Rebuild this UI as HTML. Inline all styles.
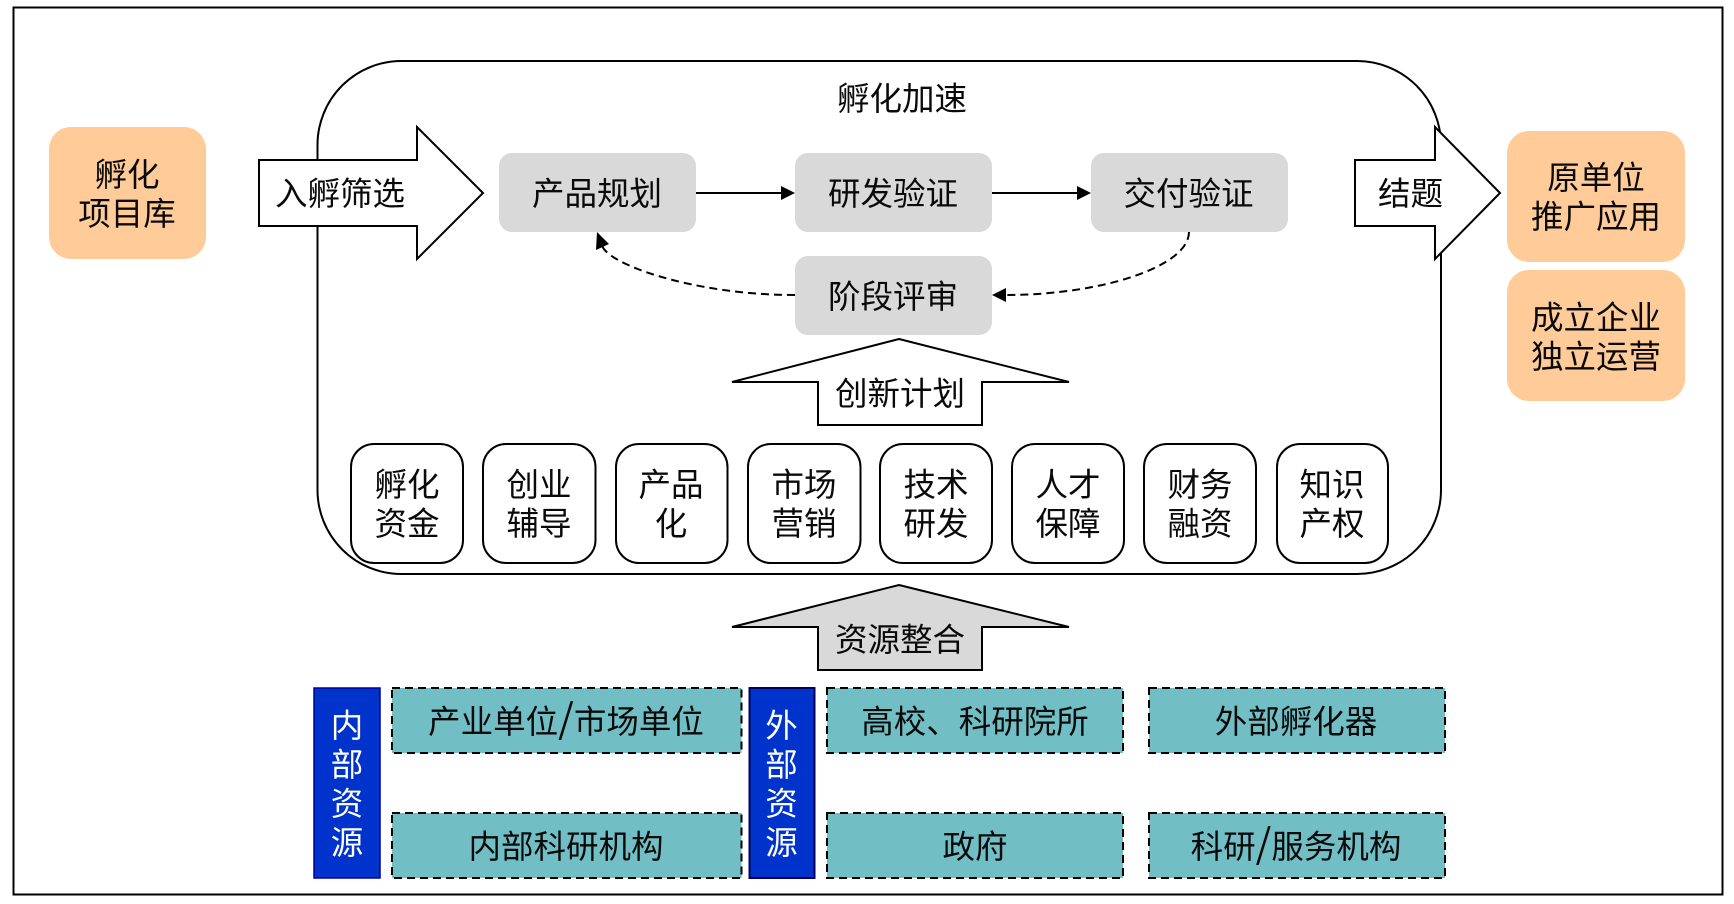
<!DOCTYPE html>
<html lang="zh-CN">
<head>
<meta charset="utf-8">
<title>孵化加速</title>
<style>
html,body{margin:0;padding:0;background:#fff}
svg{display:block}
text{font-family:"Liberation Sans","Noto Sans CJK SC",sans-serif;font-size:32.5px;fill:#0a0a0a;text-anchor:middle}
.s{font-family:"Noto Sans CJK SC",sans-serif;font-size:40px}
.w{fill:#fff}
</style>
</head>
<body>
<svg xmlns="http://www.w3.org/2000/svg" width="1734" height="904" viewBox="0 0 1734 904">
<rect width="1734" height="904" fill="#fff"/>
<rect x="13.5" y="7.5" width="1709" height="887" fill="#fff" stroke="#000" stroke-width="2"/>
<rect x="317.5" y="61" width="1123.500" height="513" rx="84" ry="84" fill="#fff" stroke="#000" stroke-width="2"/>

<rect x="49" y="127" width="157" height="132" rx="22" fill="#FFCC99"/>
<text x="127" y="186">孵化</text>
<text x="127" y="225">项目库</text>

<polygon points="259,160 417,160 417,127 483,193 417,259 417,226 259,226" fill="#fff" stroke="#000" stroke-width="2"/>
<text x="340" y="205">入孵筛选</text>

<text x="902" y="110">孵化加速</text>

<rect x="499" y="153" width="197" height="79" rx="13" fill="#D9D9D9"/>
<text x="597" y="205">产品规划</text>
<rect x="795" y="153" width="197" height="79" rx="13" fill="#D9D9D9"/>
<text x="893" y="205">研发验证</text>
<rect x="1091" y="153" width="197" height="79" rx="13" fill="#D9D9D9"/>
<text x="1188.500" y="205">交付验证</text>
<rect x="795" y="256" width="197" height="79" rx="13" fill="#D9D9D9"/>
<text x="893" y="308">阶段评审</text>

<line x1="696" y1="193" x2="783" y2="193" stroke="#000" stroke-width="2"/>
<polygon points="795,193 781,186 781,200" fill="#000"/>
<line x1="992" y1="193" x2="1079" y2="193" stroke="#000" stroke-width="2"/>
<polygon points="1091,193 1077,186 1077,200" fill="#000"/>

<path d="M795,295 C690,295 602,262 602,244" fill="none" stroke="#000" stroke-width="2" stroke-dasharray="8 5"/>
<polygon points="597,232 609,244 596,250" fill="#000"/>
<path d="M1189,232 C1189,267 1100,295 1006,295" fill="none" stroke="#000" stroke-width="2" stroke-dasharray="8 5"/>
<polygon points="992,295 1006,288 1006,302" fill="#000"/>

<polygon points="899,339 1069,382 982,382 982,425 818,425 818,382 732,382" fill="#fff" stroke="#000" stroke-width="2"/>
<text x="900" y="405">创新计划</text>

<g fill="#fff" stroke="#000" stroke-width="2">
<rect x="351" y="444" width="112" height="119" rx="23"/>
<rect x="483" y="444" width="112.500" height="119" rx="23"/>
<rect x="616" y="444" width="111.500" height="119" rx="23"/>
<rect x="748" y="444" width="112.500" height="119" rx="23"/>
<rect x="880" y="444" width="112" height="119" rx="23"/>
<rect x="1012" y="444" width="112" height="119" rx="23"/>
<rect x="1144" y="444" width="112" height="119" rx="23"/>
<rect x="1277" y="444" width="111" height="119" rx="23"/>
</g>
<text x="407" y="496">孵化</text><text x="407" y="535">资金</text>
<text x="539" y="496">创业</text><text x="539" y="535">辅导</text>
<text x="671" y="496">产品</text><text x="671" y="535">化</text>
<text x="804" y="496">市场</text><text x="804" y="535">营销</text>
<text x="936" y="496">技术</text><text x="936" y="535">研发</text>
<text x="1068" y="496">人才</text><text x="1068" y="535">保障</text>
<text x="1200" y="496">财务</text><text x="1200" y="535">融资</text>
<text x="1332" y="496">知识</text><text x="1332" y="535">产权</text>

<polygon points="1355,160 1435,160 1435,127 1500,193 1435,259 1435,226 1355,226" fill="#fff" stroke="#000" stroke-width="2"/>
<text x="1410.500" y="205">结题</text>

<rect x="1507" y="131" width="178" height="131" rx="22" fill="#FFCC99"/>
<text x="1596" y="189">原单位</text>
<text x="1596" y="228">推广应用</text>
<rect x="1507" y="270" width="178" height="131" rx="22" fill="#FFCC99"/>
<text x="1596" y="329">成立企业</text>
<text x="1596" y="368">独立运营</text>

<polygon points="899,585 1069,627 982,627 982,670 818,670 818,627 732,627" fill="#D9D9D9" stroke="#000" stroke-width="2"/>
<text x="900" y="651">资源整合</text>

<rect x="314" y="688" width="66" height="190" fill="#0033CC" stroke="#000099" stroke-width="1.500"/>
<text class="w" x="347" y="737">内</text><text class="w" x="347" y="776">部</text><text class="w" x="347" y="815">资</text><text class="w" x="347" y="854">源</text>
<rect x="749.500" y="688" width="65" height="190" fill="#0033CC" stroke="#00005a" stroke-width="2"/>
<text class="w" x="781.500" y="737">外</text><text class="w" x="781.500" y="776">部</text><text class="w" x="781.500" y="815">资</text><text class="w" x="781.500" y="854">源</text>

<g fill="#72BEC5" stroke="#000" stroke-width="2" stroke-dasharray="8 5">
<rect x="392" y="688" width="349.500" height="65"/>
<rect x="392" y="813" width="349.500" height="65"/>
<rect x="827" y="688" width="296" height="65"/>
<rect x="827" y="813" width="296" height="65"/>
<rect x="1149" y="688" width="296" height="65"/>
<rect x="1149" y="813" width="296" height="65"/>
</g>
<text x="566" y="733">产业单位<tspan class="s">/</tspan>市场单位</text>
<text x="566" y="858">内部科研机构</text>
<text x="975" y="733">高校、科研院所</text>
<text x="975" y="858">政府</text>
<text x="1296" y="733">外部孵化器</text>
<text x="1296" y="858">科研<tspan class="s">/</tspan>服务机构</text>
</svg>
</body>
</html>
